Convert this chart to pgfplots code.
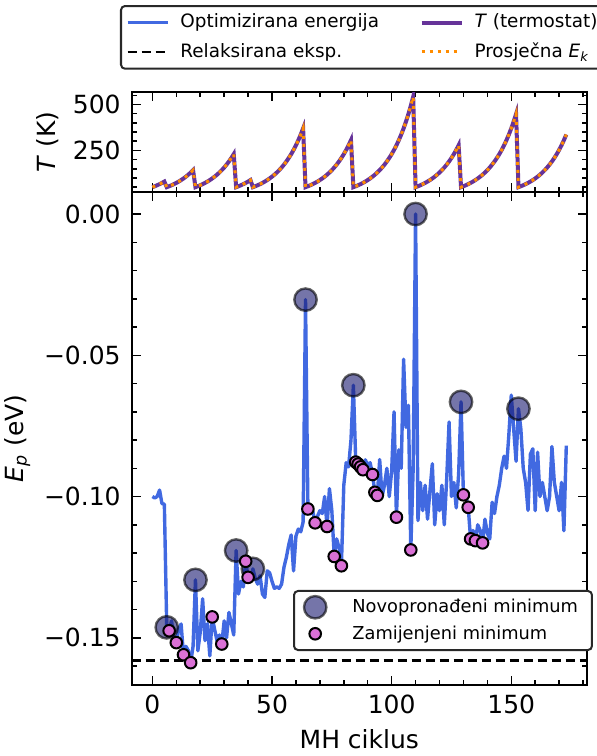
\documentclass[border=0pt]{standalone}
\usepackage{fontspec}
\setmainfont{DejaVu Sans}
\usepackage{pgfplots}
\pgfplotsset{compat=1.18}
\definecolor{royalblue}{RGB}{65,105,225}
\definecolor{rebeccapurple}{RGB}{102,51,153}
\definecolor{darkorange}{RGB}{255,140,0}
\definecolor{orchid}{RGB}{218,112,214}
\definecolor{midnightblue}{RGB}{25,25,112}
\definecolor{legendedge}{RGB}{40,40,40}

\pgfplotsset{
  common/.style={
    scale only axis, width=227.65pt,
    xmin=-8.65, xmax=181.65,
    axis line style={line width=1pt},
    every tick/.style={line width=0.75pt, black},
    major tick length=4.5pt, minor tick length=2.5pt,
    tick align=inside,
    xtick={0,50,100,150},
    minor xtick={10,20,30,40,60,70,80,90,110,120,130,140,160,170,180},
    /pgf/number format/assume math mode=true,
    tick label style={font=\fontsize{12.5}{14}\selectfont},
    label style={font=\fontsize{12.5}{14}\selectfont},
    yticklabel style={xshift=-2pt},
    xticklabel style={yshift=-1.5pt},
  }
}

\begin{document}
\begin{tikzpicture}
\path[use as bounding box] (0,0) rectangle (298pt,378pt);

% ---------- main panel ----------
\begin{axis}[common, at={(65.85pt,35.5pt)}, anchor=south west, height=246.65pt,
  ymin=-0.1667, ymax=0.0079,
  ytick={-0.15,-0.10,-0.05,0}, yticklabels={−0.15,−0.10,−0.05,0.00},
  minor ytick={-0.16,-0.14,-0.13,-0.12,-0.11,-0.09,-0.08,-0.07,-0.06,-0.04,-0.03,-0.02,-0.01},
  xlabel={MH ciklus}, ylabel={\textit{E}\textsubscript{\textit{p}} (eV)},
  xlabel style={yshift=-1pt},
  legend style={at={(0.3543,0.1926)}, anchor=north west, draw=legendedge, line width=1pt,
    rounded corners=2pt, font=\fontsize{8.9}{11}\selectfont, inner xsep=5pt, inner ysep=2pt,
    row sep=1pt, /tikz/every odd column/.append style={column sep=11pt}},
  legend cell align=left,
]
\addplot[royalblue, line width=1.7pt, line join=round, forget plot] coordinates {
(0,-0.1000)(1,-0.1005)(2,-0.1000)(3,-0.0977)(4,-0.1025)(5,-0.1027)
(6,-0.1463)(7,-0.1475)(8,-0.1440)(9,-0.1500)(10,-0.1517)(11,-0.1470)(12,-0.1451)(13,-0.1560)(14,-0.1530)(15,-0.1545)(16,-0.1588)(17,-0.1530)
(18,-0.1295)(19,-0.1546)(20,-0.1480)(21,-0.1362)(22,-0.1510)(23,-0.1450)(24,-0.1564)(25,-0.1426)(26,-0.1470)(27,-0.1510)(28,-0.1490)(29,-0.1522)(30,-0.1440)(31,-0.1500)(32,-0.1410)(33,-0.1450)(34,-0.1490)
(35,-0.1191)(36,-0.1345)(37,-0.1300)(38,-0.1320)(39,-0.1229)(40,-0.1286)(41,-0.1300)
(42,-0.1256)(43,-0.1290)(44,-0.1310)(45,-0.1280)(46,-0.1345)(47,-0.1357)(48,-0.1263)(49,-0.1270)(50,-0.1300)(51,-0.1325)(52,-0.1320)(53,-0.1325)(54,-0.1310)(55,-0.1250)(56,-0.1215)(57,-0.1170)(58,-0.1136)(59,-0.1263)(60,-0.1140)(61,-0.1115)(62,-0.1125)(63,-0.1090)
(64,-0.0303)(65,-0.1044)(66,-0.1060)(67,-0.1050)(68,-0.1093)(69,-0.1070)(70,-0.1050)(71,-0.1060)(72,-0.1000)(73,-0.1106)(74,-0.0972)(75,-0.1050)(76,-0.1212)(77,-0.1150)(78,-0.1180)(79,-0.1245)(80,-0.0960)(81,-0.0880)(82,-0.0895)(83,-0.0800)
(84,-0.0606)(85,-0.0878)(86,-0.0885)(87,-0.0895)(88,-0.0905)(89,-0.0870)(90,-0.0890)(91,-0.0880)(92,-0.0922)(93,-0.0985)(94,-0.0996)(95,-0.0869)(96,-0.1000)(97,-0.0960)(98,-0.0900)(99,-0.1000)(100,-0.0910)(101,-0.0700)(102,-0.1073)(103,-0.0835)(104,-0.0900)(105,-0.0514)(106,-0.0755)(107,-0.0677)(108,-0.1189)(109,-0.0900)
(110,0.0000)(111,-0.1085)(112,-0.0950)(113,-0.1050)(114,-0.0960)(115,-0.1080)(116,-0.0980)(117,-0.0884)(118,-0.1100)(119,-0.0990)(120,-0.1050)(121,-0.0960)(122,-0.1100)(123,-0.0940)(124,-0.0736)(125,-0.1000)(126,-0.0950)(127,-0.1040)(128,-0.0920)
(129,-0.0665)(130,-0.0994)(131,-0.1000)(132,-0.1038)(133,-0.1150)(134,-0.1120)(135,-0.1156)(136,-0.1100)(137,-0.1120)(138,-0.1164)(139,-0.1080)(140,-0.1130)(141,-0.1150)(142,-0.1020)(143,-0.1060)(144,-0.1000)(145,-0.0960)(146,-0.0900)(147,-0.0857)(148,-0.0900)(149,-0.0780)(150,-0.0641)(151,-0.0760)(152,-0.0875)
(153,-0.0689)(154,-0.0760)(155,-0.0900)(156,-0.0950)(157,-0.1049)(158,-0.0850)(159,-0.0831)(160,-0.1050)(161,-0.0843)(162,-0.1000)(163,-0.0950)(164,-0.1000)(165,-0.1050)(166,-0.1000)(167,-0.0823)(168,-0.0950)(169,-0.1000)(170,-0.1050)(171,-0.0950)(172,-0.1121)(173,-0.0820)
};
\addplot[black, line width=1.2pt, dash pattern=on 4.5pt off 2.5pt, forget plot] coordinates {(-8.65,-0.158)(181.65,-0.158)};
\addplot[only marks, mark=*, mark size=5.6pt,
  mark options={fill=midnightblue, draw=black, fill opacity=0.6, draw opacity=0.6, line width=1.2pt}]
  coordinates {(6,-0.1463)(18,-0.1295)(35,-0.1191)(42,-0.1256)(64,-0.0303)(84,-0.0606)(110,0.0)(129,-0.0665)(153,-0.0689)};
\addlegendentry{Novopronađeni minimum}
\addplot[only marks, mark=*, mark size=2.9pt,
  mark options={fill=orchid, draw=black, line width=1pt}]
  coordinates {(7,-0.1475)(10,-0.1517)(13,-0.1560)(16,-0.1588)(25,-0.1426)(29,-0.1522)(39,-0.1229)(40,-0.1286)
  (65,-0.1044)(68,-0.1093)(73,-0.1106)(76,-0.1212)(79,-0.1245)(85,-0.0878)(86,-0.0885)(87,-0.0895)(88,-0.0905)
  (92,-0.0922)(93,-0.0985)(94,-0.0996)(102,-0.1073)(108,-0.1189)(130,-0.0994)(132,-0.1038)(133,-0.1150)(135,-0.1156)(138,-0.1164)};
\addlegendentry{Zamijenjeni minimum}
\end{axis}

% ---------- top panel ----------
\begin{axis}[common, at={(65.85pt,282.15pt)}, anchor=south west, height=49.7pt,
  ymin=25.4, ymax=566.3, ytick={250,500},
  minor ytick={50,100,150,200,300,350,400,450,550},
  xticklabels={}, ylabel={\textit{T} (K)},
  legend columns=2,
  legend style={at={(-0.0257,1.878)}, anchor=north west, draw=legendedge, line width=1pt,
    rounded corners=2pt, font=\fontsize{9.2}{11}\selectfont, inner xsep=2.5pt, inner ysep=2pt,
    row sep=2pt,
    /tikz/every even column/.append style={column sep=18.25pt},
    /tikz/every odd column/.append style={column sep=3.5pt}},
  legend cell align=left,
  legend image code/.code={\draw[#1] (0pt,0pt) -- (20pt,0pt);},
]
\pgfplotstableread{
x T
0 50
1 55
2 60.5
3 66.6
4 73.2
5 80.5
6 50
7 55
8 60.5
9 66.6
10 73.2
11 80.5
12 88.6
13 97.4
14 107.2
15 117.9
16 129.7
17 142.7
18 50
19 55
20 60.5
21 66.6
22 73.2
23 80.5
24 88.6
25 97.4
26 107.2
27 117.9
28 129.7
29 142.7
30 156.9
31 172.6
32 189.9
33 208.9
34 229.7
35 50
36 55
37 60.5
38 66.6
39 73.2
40 80.5
41 88.6
42 50
43 55
44 60.5
45 66.6
46 73.2
47 80.5
48 88.6
49 97.4
50 107.2
51 117.9
52 129.7
53 142.7
54 156.9
55 172.6
56 189.9
57 208.9
58 229.7
59 252.7
60 278.0
61 305.8
62 336.4
63 370.0
64 50
65 55
66 60.5
67 66.6
68 73.2
69 80.5
70 88.6
71 97.4
72 107.2
73 117.9
74 129.7
75 142.7
76 156.9
77 172.6
78 189.9
79 208.9
80 229.7
81 252.7
82 278.0
83 305.8
84 50
85 55
86 60.5
87 66.6
88 73.2
89 80.5
90 88.6
91 97.4
92 107.2
93 117.9
94 129.7
95 142.7
96 156.9
97 172.6
98 189.9
99 208.9
100 229.7
101 252.7
102 278.0
103 305.8
104 336.4
105 370.0
106 407.0
107 447.7
108 492.5
109 541.7
110 50
111 55
112 60.5
113 66.6
114 73.2
115 80.5
116 88.6
117 97.4
118 107.2
119 117.9
120 129.7
121 142.7
122 156.9
123 172.6
124 189.9
125 208.9
126 229.7
127 252.7
128 278.0
129 50
130 55
131 60.5
132 66.6
133 73.2
134 80.5
135 88.6
136 97.4
137 107.2
138 117.9
139 129.7
140 142.7
141 156.9
142 172.6
143 189.9
144 208.9
145 229.7
146 252.7
147 278.0
148 305.8
149 336.4
150 370.0
151 407.0
152 447.7
153 50
154 55
155 60.5
156 66.6
157 73.2
158 80.5
159 88.6
160 97.4
161 107.2
162 117.9
163 129.7
164 142.7
165 156.9
166 172.6
167 189.9
168 208.9
169 229.7
170 252.7
171 278.0
172 305.8
173 336.4
}\Ttable
\addlegendimage{royalblue, line width=1.7pt}
\addlegendentry{Optimizirana energija}
\addplot[rebeccapurple, line width=2pt] table[x=x,y=T] {\Ttable};
\addlegendentry{\textit{T} (termostat)}
\addlegendimage{black, line width=1.2pt, dash pattern=on 4.5pt off 2.5pt}
\addlegendentry{Relaksirana eksp.}
\addplot[darkorange, line width=1.5pt, dash pattern=on 1.5pt off 2.5pt] table[x=x,y=T] {\Ttable};
\addlegendentry{Prosječna \textit{E}\textsubscript{\textit{k}}}
\end{axis}
\end{tikzpicture}
\end{document}
